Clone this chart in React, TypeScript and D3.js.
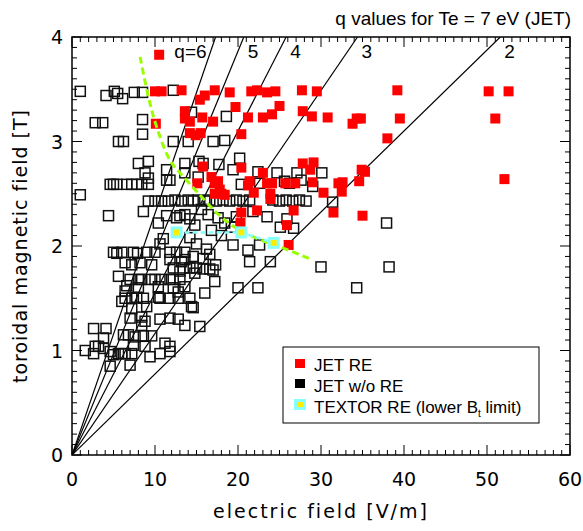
import React from 'react';
import * as d3 from 'd3';

// JET runaway discharges [E (V/m), Bt (T)]
const jetRE: [number, number][] = [
  [10.5, 3.83],
  [10.0, 3.48], [10.8, 3.48], [13.2, 3.49], [15.4, 3.40], [16.0, 3.44], [17.2, 3.49], [19.0, 3.47],
  [21.6, 3.48], [22.3, 3.49], [23.5, 3.47], [24.5, 3.48], [27.7, 3.49], [29.5, 3.48], [39.2, 3.49],
  [50.2, 3.48], [52.6, 3.48],
  [13.6, 3.29], [13.6, 3.22], [14.2, 3.19], [10.1, 3.17], [15.7, 3.23], [17.0, 3.19], [19.7, 3.33],
  [21.2, 3.23], [23.0, 3.23], [24.1, 3.26], [25.0, 3.34], [27.8, 3.29], [28.9, 3.24], [30.8, 3.23],
  [33.8, 3.17], [34.3, 3.22], [34.8, 3.22], [39.5, 3.22], [51.0, 3.22],
  [14.2, 3.08], [14.9, 3.06], [15.5, 3.08], [20.4, 3.07], [38.0, 3.03],
  [15.8, 2.76], [20.4, 2.75], [23.0, 2.70], [27.8, 2.79], [28.7, 2.73], [29.1, 2.80], [34.9, 2.73],
  [35.3, 2.71],
  [15.1, 2.60], [16.8, 2.66], [17.2, 2.60], [17.6, 2.62], [21.4, 2.62], [21.2, 2.58], [23.5, 2.60],
  [24.1, 2.60], [25.7, 2.60], [26.9, 2.60], [29.0, 2.61], [32.1, 2.60], [32.6, 2.61], [34.6, 2.62],
  [52.1, 2.64],
  [17.2, 2.50], [17.8, 2.54], [18.0, 2.50], [18.4, 2.49], [21.9, 2.51], [23.9, 2.50], [23.9, 2.45],
  [30.3, 2.51], [32.5, 2.52],
  [20.4, 2.32], [22.3, 2.34], [26.7, 2.34], [20.3, 2.22], [25.9, 2.20], [31.5, 2.32], [35.0, 2.29],
  [26.1, 2.01],
];

// JET discharges without runaways
const jetNoRE: [number, number][] = [
  [1.0, 3.48], [4.1, 3.44], [5.1, 3.48], [5.5, 3.46], [6.1, 3.41], [7.5, 3.47], [8.5, 3.47], [12.2, 3.49],
  [2.8, 3.18], [3.7, 3.18], [8.5, 3.21], [8.5, 3.07], [14.4, 3.28], [18.6, 3.24],
  [5.6, 3.0], [6.2, 3.0], [12.2, 3.0], [14.0, 3.0], [17.0, 3.0], [18.4, 3.01],
  [8.0, 2.79], [9.2, 2.81], [8.8, 2.70], [11.4, 2.73], [13.6, 2.79], [11.4, 2.63], [11.8, 2.63],
  [9.2, 2.65], [13.6, 2.70], [15.3, 2.81], [15.8, 2.79], [17.7, 2.78], [19.4, 2.73], [20.2, 2.84],
  [22.4, 2.71], [24.7, 2.70], [27.1, 2.70], [30.1, 2.70], [15.2, 2.66], [27.6, 2.63],
  [4.6, 2.59], [5.0, 2.59], [5.4, 2.59], [6.6, 2.59], [7.2, 2.59], [7.8, 2.59], [8.4, 2.59], [9.2, 2.59],
  [1.0, 2.49],
  [9.2, 2.43], [10.0, 2.43], [10.8, 2.43], [11.6, 2.43], [12.4, 2.44], [13.2, 2.43], [14.0, 2.44],
  [14.6, 2.43], [15.2, 2.44], [16.0, 2.43], [16.6, 2.44], [17.4, 2.43], [18.2, 2.44], [19.0, 2.43],
  [19.8, 2.44], [20.6, 2.43], [21.4, 2.44], [24.2, 2.44], [25.0, 2.43], [25.8, 2.44], [26.6, 2.43],
  [27.4, 2.44], [28.2, 2.43], [31.4, 2.42],
  [20.4, 2.59], [22.6, 2.60], [25.6, 2.62], [26.2, 2.60], [29.0, 2.57],
  [21.8, 2.33], [23.5, 2.28], [25.9, 2.26], [25.1, 2.18], [26.7, 2.17],
  [19.4, 2.01], [21.2, 1.96], [22.6, 2.01], [23.9, 1.85], [21.4, 1.85], [20.0, 1.60], [22.4, 1.60],
  [14.6, 1.41], [15.4, 1.23], [37.9, 2.22], [30.0, 1.80], [38.2, 1.80], [34.3, 1.60],
  [4.4, 2.29], [8.6, 2.33], [11.4, 2.29], [13.0, 2.29], [10.4, 2.22], [12.6, 2.27], [13.6, 2.30],
  [14.2, 2.26], [11.0, 2.07], [10.6, 2.02],
  [5.0, 1.94], [5.4, 1.93], [6.0, 1.94], [7.4, 1.94], [7.9, 1.93], [9.0, 1.94], [10.0, 1.94],
  [11.8, 1.94], [12.6, 1.94], [13.6, 1.94],
  [6.4, 1.84], [7.2, 1.82], [8.2, 1.84], [9.6, 1.82], [11.8, 1.87], [13.2, 1.85], [13.6, 1.87],
  [12.2, 1.79], [13.4, 1.79], [14.2, 1.79], [15.0, 1.79], [15.8, 1.78], [16.6, 1.78], [17.0, 1.77],
  [5.6, 1.71],
  [7.0, 1.68], [8.0, 1.68], [8.4, 1.68], [9.4, 1.68], [10.0, 1.68], [10.8, 1.68], [11.8, 1.68],
  [12.2, 1.68], [13.0, 1.68], [17.2, 1.66],
  [6.6, 1.62], [8.0, 1.60], [10.4, 1.61], [12.2, 1.60], [13.6, 1.61], [6.4, 1.57],
  [6.4, 1.50], [7.2, 1.50], [8.6, 1.50], [10.6, 1.50], [12.8, 1.50], [14.2, 1.50], [6.0, 1.47],
  [7.8, 1.51], [10.4, 1.51], [11.8, 1.50], [12.8, 1.56], [16.0, 1.55],
  [7.2, 1.40], [9.0, 1.42], [14.4, 1.42],
  [7.0, 1.31], [8.4, 1.32], [10.6, 1.30], [11.8, 1.31], [12.8, 1.30], [13.6, 1.24], [8.4, 1.24],
  [8.8, 1.28],
  [2.6, 1.21], [4.1, 1.21], [3.8, 1.12],
  [6.2, 1.15], [6.8, 1.15], [7.6, 1.13], [8.6, 1.14], [9.6, 1.14],
  [7.4, 1.05], [8.8, 1.04], [11.2, 1.07], [11.8, 1.04],
  [1.6, 1.0], [2.8, 1.04], [2.6, 0.97], [3.8, 1.02], [4.6, 0.99], [5.0, 0.96], [5.6, 0.97],
  [6.0, 0.97], [6.4, 0.97], [7.2, 0.97], [9.4, 0.94], [10.6, 0.97], [11.8, 0.99], [3.2, 1.04],
  [4.6, 0.85], [7.0, 0.86],
  [14.2, 2.08], [15.0, 2.02], [16.2, 1.97], [14.6, 1.90], [15.8, 1.88], [16.6, 1.92], [17.3, 1.82],
  [14.8, 1.74], [13.0, 1.76],
  [15.6, 2.35], [16.4, 2.30], [17.6, 2.27], [18.4, 2.22], [16.8, 2.15], [18.0, 2.10], [19.2, 2.18],
  [19.8, 2.28], [14.8, 2.20],
];

// TEXTOR runaway onset (lower Bt limit)
const textorRE: [number, number][] = [[12.6, 2.13], [20.4, 2.13], [24.3, 2.03]];

// green dashed boundary
const greenCurve: [number, number][] = [
  [8.2, 3.81], [9.2, 3.43], [10.2, 3.14], [11.8, 2.82], [13.0, 2.70], [15.4, 2.49],
  [17.8, 2.29], [20.2, 2.15], [22.7, 2.06], [25.1, 1.99], [28.9, 1.87],
];

// q lines: E where each line reaches Bt = 4 T
const qValues = ['q=6', '5', '4', '3', '2'];
const qTopE = [17.3, 20.7, 25.8, 34.4, 51.6];

const xTicks = [0, 10, 20, 30, 40, 50, 60];
const yTicks = [0, 1, 2, 3, 4];

const W = 583;
const H = 531;
const m = { left: 72, right: 570, top: 37, bottom: 455 };

export default function App() {
  const x = d3.scaleLinear().domain([0, 60]).range([m.left, m.right]);
  const y = d3.scaleLinear().domain([0, 4]).range([m.bottom, m.top]);

  const green = d3.line<[number, number]>().x((d) => x(d[0])).y((d) => y(d[1])).curve(d3.curveCatmullRom);
  const cyan = d3.line<[number, number]>().x((d) => x(d[0])).y((d) => y(d[1]));

  const minorX = d3.range(0, 61, 1);
  const minorY = d3.range(0, 4.001, 0.1);
  const hershey = '"DejaVu Sans", sans-serif';
  const helv = '"Liberation Sans", Arial, sans-serif';
  const s = 10;

  return (
    <svg width={W} height={H} style={{ position: 'absolute', left: 0, top: 0, background: '#fff' }}>
      <defs>
        <clipPath id="plot">
          <rect x={m.left} y={m.top} width={m.right - m.left} height={m.bottom - m.top} />
        </clipPath>
      </defs>

      <g clipPath="url(#plot)">
        {qTopE.map((e, i) => (
          <line key={i} x1={x(0)} y1={y(0)} x2={x(e)} y2={y(4)} stroke="#000" strokeWidth={1.2} />
        ))}
        {jetNoRE.map((d, i) => (
          <rect key={'b' + i} x={x(d[0]) - s / 2} y={y(d[1]) - s / 2} width={s} height={s}
            fill="none" stroke="#111" strokeWidth={1.5} />
        ))}
        {jetRE.map((d, i) => (
          <rect key={'r' + i} x={x(d[0]) - 5} y={y(d[1]) - 5} width={10} height={10} fill="#ff0000" />
        ))}
        <path d={green(greenCurve) || ''} fill="none" stroke="#99ff00" strokeWidth={3} strokeDasharray="7,4" />
        <path d={cyan(textorRE) || ''} fill="none" stroke="#88ffff" strokeWidth={2.5} strokeDasharray="5,3" />
        {textorRE.map((d, i) => (
          <g key={'t' + i}>
            <rect x={x(d[0]) - 6} y={y(d[1]) - 6} width={12} height={12} fill="#88ffff" />
            <rect x={x(d[0]) - 3} y={y(d[1]) - 3} width={6} height={6} fill="#ffee00" />
          </g>
        ))}
      </g>

      {/* q labels */}
      {qValues.map((q, i) => (
        <text key={q} x={i === 0 ? x(qTopE[i]) - 9 : x(qTopE[i]) + 4} y={58}
          textAnchor={i === 0 ? 'end' : 'start'} fontFamily={helv} fontSize={19}>{q}</text>
      ))}

      {/* frame and ticks */}
      <rect x={m.left} y={m.top} width={m.right - m.left} height={m.bottom - m.top} fill="none" stroke="#000" strokeWidth={1.5} />
      {minorX.map((v) => {
        const len = v % 10 === 0 ? 10 : 5;
        return (
          <g key={'tx' + v}>
            <line x1={x(v)} x2={x(v)} y1={m.bottom} y2={m.bottom - len} stroke="#000" />
            <line x1={x(v)} x2={x(v)} y1={m.top} y2={m.top + len} stroke="#000" />
          </g>
        );
      })}
      {minorY.map((v, i) => {
        const len = i % 10 === 0 ? 10 : 5;
        return (
          <g key={'ty' + i}>
            <line x1={m.left} x2={m.left + len} y1={y(v)} y2={y(v)} stroke="#000" />
            <line x1={m.right} x2={m.right - len} y1={y(v)} y2={y(v)} stroke="#000" />
          </g>
        );
      })}
      {xTicks.map((v) => (
        <text key={'lx' + v} x={x(v)} y={486} textAnchor="middle" fontFamily={hershey} fontSize={19}>{v}</text>
      ))}
      {yTicks.map((v) => (
        <text key={'ly' + v} x={63} y={y(v) + 7} textAnchor="end" fontFamily={hershey} fontSize={19}>{v}</text>
      ))}

      <text x={(m.left + m.right) / 2} y={518} textAnchor="middle" fontFamily={hershey} fontSize={19} letterSpacing={2}>
        electric field [V/m]
      </text>
      <text transform={`translate(27,${(m.top + m.bottom) / 2}) rotate(-90)`} textAnchor="middle"
        fontFamily={hershey} fontSize={19} letterSpacing={1}>
        toroidal magnetic field [T]
      </text>

      <text x={571} y={25} textAnchor="end" fontFamily={helv} fontSize={19}>q values for Te = 7 eV (JET)</text>

      {/* legend */}
      <g>
        <rect x={283} y={347} width={256} height={76} fill="#fff" stroke="#000" strokeWidth={1} />
        <rect x={295} y={359} width={10} height={9} fill="#ff0000" />
        <text x={314} y={371} fontFamily={helv} fontSize={17}>JET RE</text>
        <rect x={295} y={379} width={10} height={9} fill="#000" />
        <text x={314} y={392} fontFamily={helv} fontSize={17}>JET w/o RE</text>
        <rect x={294} y={399} width={12} height={11} fill="#88ffff" />
        <rect x={297} y={402} width={6} height={5} fill="#ffee00" />
        <text x={314} y={413} fontFamily={helv} fontSize={17}>
          TEXTOR RE (lower B<tspan fontSize={10} dy={4}>t</tspan><tspan dy={-4}> limit)</tspan>
        </text>
      </g>
    </svg>
  );
}
